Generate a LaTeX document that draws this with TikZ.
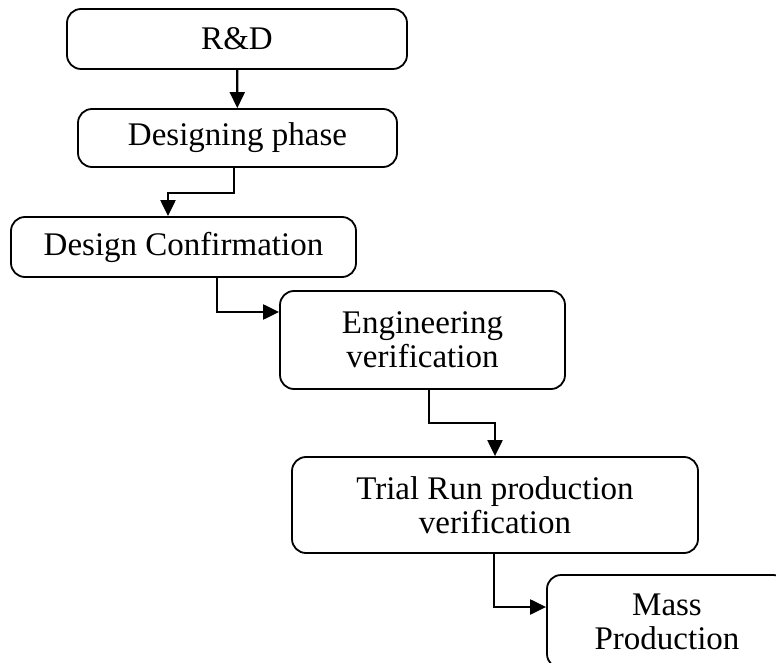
\documentclass[tikz,border=0pt]{standalone}
\usepackage{fontspec}
\setmainfont{Liberation Serif}
\usepackage{tikz}
\usetikzlibrary{arrows.meta}

\tikzset{
    stage/.style={draw,rounded corners=14pt,line width=1.8pt,align=center,inner sep=0pt,font=\fontsize{33}{34}\selectfont},
    flow/.style={-{Triangle[length=16pt,width=15pt]},line width=2.2pt}
}

\begin{document}
\begin{tikzpicture}[x=1pt,y=1pt]
    \clip (0,0) rectangle (776,662);
    \node[stage,minimum width=340pt,minimum height=60pt] (1) at (237,623) {R\&D};
    \node[stage,minimum width=319pt,minimum height=58pt] (2) at (237.5,524) {Designing phase};
    \node[stage,minimum width=345pt,minimum height=60pt] (3) at (183.5,415) {Design Confirmation};
    \node[stage,minimum width=285pt,minimum height=98pt] (4) at (422.5,322) {Engineering\\verification};
    \node[stage,minimum width=406pt,minimum height=96pt] (5) at (495,157) {Trial Run production\\verification};
    \node[stage,minimum width=240pt,minimum height=93pt] (6) at (667,40.5) {Mass\\Production};
    \draw[flow] (1) to (2);
    \draw[flow] ([xshift=-3.5pt]2.south) -- ++(0,-25) -| ([xshift=-15.5pt]3.north);
    \draw[flow] ([xshift=33.5pt]3.south) |- ([yshift=28pt]4.west);
    \draw[flow] ([xshift=6.5pt]4.south) -- ++(0,-33) -| (5.north);
    \draw[flow] ([xshift=-1pt]5.south) |- ([yshift=14.5pt]6.west);
\end{tikzpicture}
\end{document}
